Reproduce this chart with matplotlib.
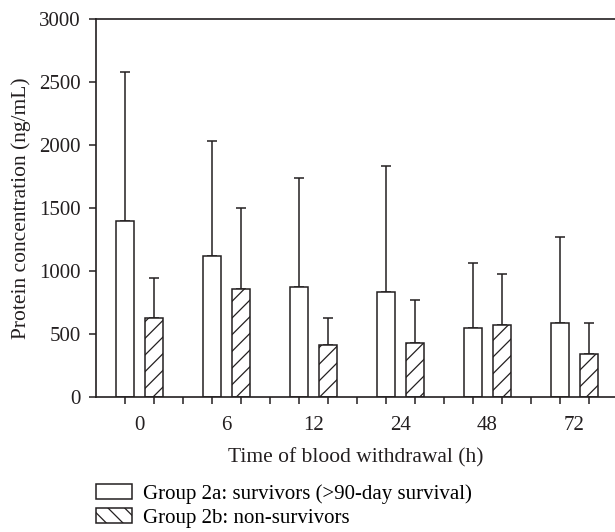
import matplotlib
matplotlib.use('Agg')
import matplotlib.pyplot as plt
from matplotlib.patches import Patch
import numpy as np

# data (ng/mL)
times = ['0', '6', '12', '24', '48', '72']
survivors_mean = [1395, 1122, 870, 836, 545, 590]
survivors_upper = [2580, 2034, 1738, 1833, 1063, 1270]
nonsurv_mean = [624, 857, 410, 431, 569, 339]
nonsurv_upper = [947, 1503, 624, 772, 976, 590]

ink = '#231f20'
plt.rcParams['font.family'] = ['Liberation Serif', 'DejaVu Serif']
plt.rcParams['hatch.linewidth'] = 0.9
plt.rcParams['hatch.color'] = ink

fig = plt.figure(figsize=(6.15, 5.32), dpi=100)
ax = fig.add_axes([96 / 615, 1 - 397 / 532, 1 - 96 / 615, (397 - 19) / 532])

x = np.arange(len(times))
off = 0.167
w = 0.207

ax.bar(x - off, survivors_mean, w, facecolor='white', edgecolor=ink, linewidth=1.1, zorder=2)
ax.bar(x + off, nonsurv_mean, w, facecolor='white', edgecolor=ink, linewidth=1.1,
       hatch='//', zorder=2)

s_err = np.array(survivors_upper) - np.array(survivors_mean)
n_err = np.array(nonsurv_upper) - np.array(nonsurv_mean)
ax.errorbar(x - off, survivors_mean, yerr=[np.zeros(len(x)), s_err], fmt='none',
            ecolor=ink, elinewidth=1.1, capsize=3.6, capthick=1.1, zorder=1)
ax.errorbar(x + off, nonsurv_mean, yerr=[np.zeros(len(x)), n_err], fmt='none',
            ecolor=ink, elinewidth=1.1, capsize=3.6, capthick=1.1, zorder=1)

ax.set_xlim(-0.5, (615 - 96) / 87 - 0.5)
ax.set_ylim(0, 3000)
ax.set_yticks(np.arange(0, 3001, 500))
ax.set_xticks(x)
ax.set_xticklabels(times)
minor = np.concatenate([x - off, x + off, x[1:] - 0.5])
ax.set_xticks(minor, minor=True)
ax.tick_params(axis='x', which='major', length=0, pad=14, labelsize=15, colors=ink)
ax.tick_params(axis='x', which='minor', length=5, width=1.1, direction='out', colors=ink)
ax.tick_params(axis='y', length=5, width=1.1, direction='out', pad=6, labelsize=15, colors=ink)

for side in ['left', 'bottom', 'top']:
    ax.spines[side].set_linewidth(1.2)
    ax.spines[side].set_color(ink)
ax.spines['right'].set_visible(False)

ax.set_xlabel('Time of blood withdrawal (h)', fontsize=15.5, color=ink, labelpad=9)
ax.set_ylabel('Protein concentration (ng/mL)', fontsize=15.5, color=ink, labelpad=6)

handles = [Patch(facecolor='white', edgecolor=ink, linewidth=1.1),
           Patch(facecolor='white', edgecolor=ink, linewidth=1.1, hatch='\\\\')]
labels = ['Group 2a: survivors (>90-day survival)', 'Group 2b: non-survivors']
fig.legend(handles, labels, loc='upper left', bbox_to_anchor=(96 / 615, 1 - 484 / 532),
           frameon=False, fontsize=15, handlelength=1.75, handleheight=0.68,
           handletextpad=0.5, labelspacing=0.22, borderpad=0, borderaxespad=0)

fig.savefig('out.png', dpi=100)
